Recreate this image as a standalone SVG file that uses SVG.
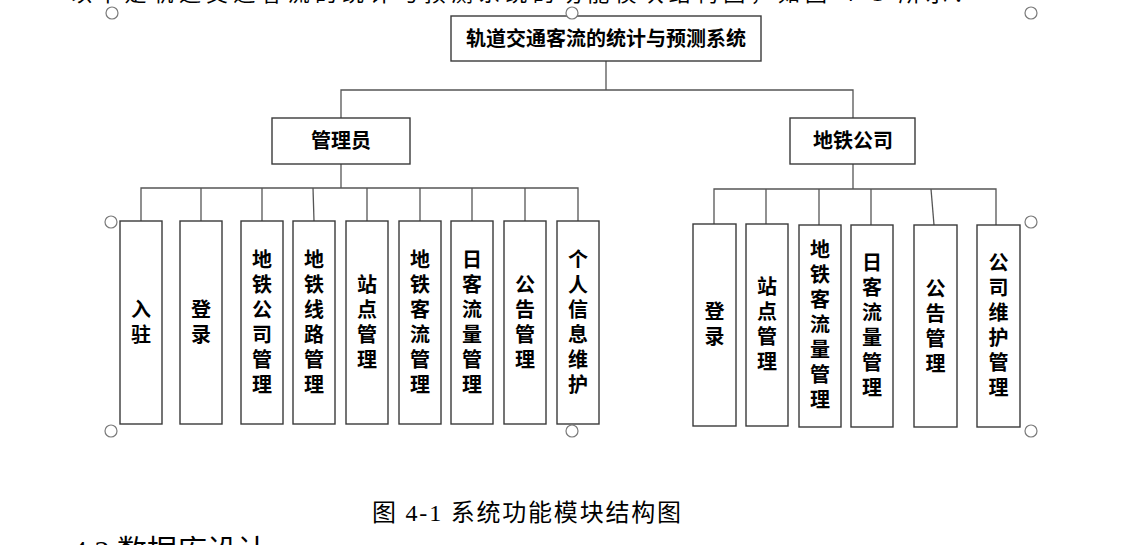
<svg xmlns="http://www.w3.org/2000/svg" width="1126" height="545" viewBox="0 0 1126 545">
<style>
.box{fill:#fff;stroke:#3a3a3a;stroke-width:1.4}
.ln{fill:none;stroke:#555;stroke-width:1.3}
.lbl{font-family:"Liberation Serif","Noto Sans CJK SC",serif;font-size:20px;font-weight:700;fill:#000;text-anchor:middle;dominant-baseline:central}
.body{font-family:"Liberation Serif","Noto Sans CJK SC",serif;fill:#000}
.hd{fill:#fff;stroke:#7a7a7a;stroke-width:1.2}
</style>
<rect width="1126" height="545" fill="#fff"/>
<text class="body" x="70" y="0.5" font-size="22" textLength="905" lengthAdjust="spacing">以下是轨道交通客流的统计与预测系统的功能模块结构图，如图 4-1 所示：</text>

<g id="connectors">
<polyline class="ln" points="606,61 606,90"/>
<polyline class="ln" points="341,118 341,90 853,90 853,118"/>
<polyline class="ln" points="341,164 341,188"/>
<polyline class="ln" points="141,221 141,188 578,188 578,221"/>
<line class="ln" x1="201" y1="188" x2="201" y2="221"/>
<line class="ln" x1="262" y1="188" x2="262" y2="221"/>
<line class="ln" x1="313" y1="188" x2="314" y2="221"/>
<line class="ln" x1="367" y1="188" x2="367" y2="221"/>
<line class="ln" x1="420" y1="188" x2="420" y2="221"/>
<line class="ln" x1="472" y1="188" x2="472" y2="221"/>
<line class="ln" x1="525" y1="188" x2="525" y2="221"/>
<polyline class="ln" points="853,164 853,189"/>
<polyline class="ln" points="714,224 714,189 996,189 996,225"/>
<line class="ln" x1="766" y1="189" x2="766" y2="224"/>
<line class="ln" x1="819" y1="189" x2="819" y2="225"/>
<line class="ln" x1="871" y1="189" x2="871" y2="225"/>
<line class="ln" x1="931" y1="189" x2="934" y2="225"/>
</g>

<g id="root"><rect class="box" x="451" y="16" width="310" height="45"/><text class="lbl" x="606" y="39" font-size="21">轨道交通客流的统计与预测系统</text></g>
<g id="admin"><rect class="box" x="272" y="118" width="138" height="46"/><text class="lbl" x="341" y="141">管理员</text></g>
<g id="metro"><rect class="box" x="790" y="118" width="125" height="46"/><text class="lbl" x="853" y="141">地铁公司</text></g>

<g id="a1"><rect class="box" x="120" y="221" width="42" height="203"/><text class="lbl"><tspan x="141" y="309.5">入</tspan><tspan x="141" y="334.5">驻</tspan></text></g>
<g id="a2"><rect class="box" x="180" y="221" width="42" height="203"/><text class="lbl"><tspan x="201" y="309.5">登</tspan><tspan x="201" y="334.5">录</tspan></text></g>
<g id="a3"><rect class="box" x="241" y="221" width="42" height="203"/><text class="lbl"><tspan x="262" y="259.5">地</tspan><tspan x="262" y="284.5">铁</tspan><tspan x="262" y="309.5">公</tspan><tspan x="262" y="334.5">司</tspan><tspan x="262" y="359.5">管</tspan><tspan x="262" y="384.5">理</tspan></text></g>
<g id="a4"><rect class="box" x="293" y="221" width="42" height="203"/><text class="lbl"><tspan x="314" y="259.5">地</tspan><tspan x="314" y="284.5">铁</tspan><tspan x="314" y="309.5">线</tspan><tspan x="314" y="334.5">路</tspan><tspan x="314" y="359.5">管</tspan><tspan x="314" y="384.5">理</tspan></text></g>
<g id="a5"><rect class="box" x="346" y="221" width="42" height="203"/><text class="lbl"><tspan x="367" y="284.5">站</tspan><tspan x="367" y="309.5">点</tspan><tspan x="367" y="334.5">管</tspan><tspan x="367" y="359.5">理</tspan></text></g>
<g id="a6"><rect class="box" x="399" y="221" width="42" height="203"/><text class="lbl"><tspan x="420" y="259.5">地</tspan><tspan x="420" y="284.5">铁</tspan><tspan x="420" y="309.5">客</tspan><tspan x="420" y="334.5">流</tspan><tspan x="420" y="359.5">管</tspan><tspan x="420" y="384.5">理</tspan></text></g>
<g id="a7"><rect class="box" x="451" y="221" width="42" height="203"/><text class="lbl"><tspan x="472" y="259.5">日</tspan><tspan x="472" y="284.5">客</tspan><tspan x="472" y="309.5">流</tspan><tspan x="472" y="334.5">量</tspan><tspan x="472" y="359.5">管</tspan><tspan x="472" y="384.5">理</tspan></text></g>
<g id="a8"><rect class="box" x="504" y="221" width="42" height="203"/><text class="lbl"><tspan x="525" y="284.5">公</tspan><tspan x="525" y="309.5">告</tspan><tspan x="525" y="334.5">管</tspan><tspan x="525" y="359.5">理</tspan></text></g>
<g id="a9"><rect class="box" x="557" y="221" width="42" height="203"/><text class="lbl"><tspan x="578" y="259.5">个</tspan><tspan x="578" y="284.5">人</tspan><tspan x="578" y="309.5">信</tspan><tspan x="578" y="334.5">息</tspan><tspan x="578" y="359.5">维</tspan><tspan x="578" y="384.5">护</tspan></text></g>

<g id="m1"><rect class="box" x="693" y="224" width="43" height="202"/><text class="lbl"><tspan x="714.5" y="312">登</tspan><tspan x="714.5" y="337">录</tspan></text></g>
<g id="m2"><rect class="box" x="746" y="224" width="42" height="202"/><text class="lbl"><tspan x="767" y="287">站</tspan><tspan x="767" y="312">点</tspan><tspan x="767" y="337">管</tspan><tspan x="767" y="362">理</tspan></text></g>
<g id="m3"><rect class="box" x="799" y="225" width="42" height="202"/><text class="lbl"><tspan x="820" y="250">地</tspan><tspan x="820" y="275">铁</tspan><tspan x="820" y="300">客</tspan><tspan x="820" y="325">流</tspan><tspan x="820" y="350">量</tspan><tspan x="820" y="375">管</tspan><tspan x="820" y="400">理</tspan></text></g>
<g id="m4"><rect class="box" x="851" y="225" width="42" height="202"/><text class="lbl"><tspan x="872" y="263">日</tspan><tspan x="872" y="288">客</tspan><tspan x="872" y="313">流</tspan><tspan x="872" y="338">量</tspan><tspan x="872" y="363">管</tspan><tspan x="872" y="388">理</tspan></text></g>
<g id="m5"><rect class="box" x="914" y="225" width="43" height="202"/><text class="lbl"><tspan x="935.5" y="288.5">公</tspan><tspan x="935.5" y="313.5">告</tspan><tspan x="935.5" y="338.5">管</tspan><tspan x="935.5" y="363.5">理</tspan></text></g>
<g id="m6"><rect class="box" x="977" y="225" width="43" height="202"/><text class="lbl"><tspan x="998.5" y="263">公</tspan><tspan x="998.5" y="288">司</tspan><tspan x="998.5" y="313">维</tspan><tspan x="998.5" y="338">护</tspan><tspan x="998.5" y="363">管</tspan><tspan x="998.5" y="388">理</tspan></text></g>

<g id="handles">
<circle class="hd" cx="112" cy="13" r="6"/>
<circle class="hd" cx="572" cy="13" r="6"/>
<circle class="hd" cx="1031" cy="13" r="6"/>
<circle class="hd" cx="111" cy="222" r="6"/>
<circle class="hd" cx="1031" cy="222" r="6"/>
<circle class="hd" cx="111" cy="431" r="6"/>
<circle class="hd" cx="572" cy="431" r="6"/>
<circle class="hd" cx="1031" cy="431" r="6"/>
</g>

<text class="body" x="372" y="521" font-size="24" textLength="309" lengthAdjust="spacing">图 4-1 系统功能模块结构图</text>
<text class="body" x="72" y="561" font-size="30">4.2 数据库设计</text>
</svg>
